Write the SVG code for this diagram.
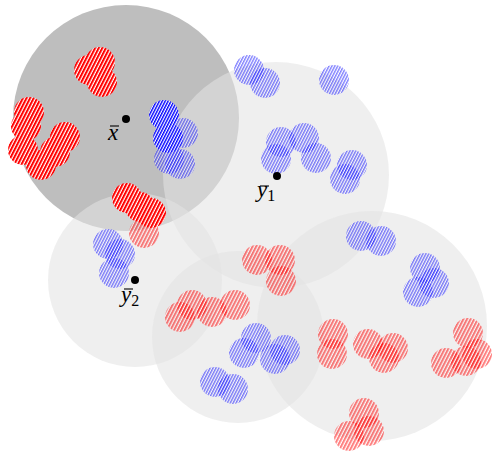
<svg xmlns="http://www.w3.org/2000/svg" width="492" height="453" viewBox="0 0 492 453">
<defs>
<pattern id="pr" patternUnits="userSpaceOnUse" width="3.2" height="10" patternTransform="rotate(27)"><rect width="3.2" height="10" fill="#ffffff"/><rect width="2" height="10" fill="#ff0000"/></pattern>
<pattern id="pb" patternUnits="userSpaceOnUse" width="2.6" height="10" patternTransform="rotate(27)"><rect width="2.6" height="10" fill="#ffffff"/><rect width="1.4" height="10" fill="#0000ff"/></pattern>
</defs>
<style>
.dark{fill:#bebebe}
.ball{fill:#e2e2e2;fill-opacity:0.57}
.r{fill:url(#pr)}
.b{fill:url(#pb)}
.f{opacity:0.5}
.dot{fill:#000}
.lab{font-family:"Liberation Serif","DejaVu Serif",serif;font-style:italic;font-size:23px;fill:#000}
.sub{font-family:"Liberation Serif","DejaVu Serif",serif;font-style:normal;font-size:16px;fill:#000}
.bar{stroke:#000;stroke-width:1.1}
</style>
<g id="balls">
<circle id="ball-x" class="dark" cx="126" cy="118" r="113"/>
<circle id="ball-y1" class="ball" cx="276" cy="175" r="113"/>
<circle id="ball-y2" class="ball" cx="135" cy="280" r="87"/>
<circle id="ball-c3" class="ball" cx="238" cy="337" r="86"/>
<circle id="ball-c4" class="ball" cx="372" cy="326" r="115"/>
</g>
<g id="points" >
<g id="red-vivid" class="r">
<circle cx="100" cy="62" r="15"/><circle cx="89" cy="70" r="15"/><circle cx="102" cy="82" r="15"/>
<circle cx="29" cy="112" r="15"/><circle cx="26" cy="126" r="15"/><circle cx="23" cy="150" r="15"/>
<circle cx="41" cy="165" r="15"/><circle cx="55" cy="152" r="15"/><circle cx="65" cy="137" r="15"/>
<circle cx="127" cy="198" r="15"/><circle cx="140" cy="207" r="15"/><circle cx="151" cy="213" r="15"/>
</g>
<g id="blue-vivid" class="b">
<circle cx="164" cy="115" r="15"/><circle cx="168" cy="138" r="15"/>
</g>
<g id="blue-faded" class="b">
<circle class="f" cx="183" cy="133" r="15"/><circle class="f" cx="169" cy="159" r="15"/><circle class="f" cx="180" cy="164" r="15"/>
<circle class="f" cx="249" cy="70" r="15"/><circle class="f" cx="265" cy="83" r="15"/><circle class="f" cx="334" cy="80" r="15"/>
<circle class="f" cx="281" cy="142" r="15"/><circle class="f" cx="304" cy="138" r="15"/><circle class="f" cx="276" cy="159" r="15"/>
<circle class="f" cx="316" cy="158" r="15"/><circle class="f" cx="352" cy="165" r="15"/><circle class="f" cx="345" cy="179" r="15"/>
<circle class="f" cx="108" cy="244" r="15"/><circle class="f" cx="120" cy="254" r="15"/><circle class="f" cx="114" cy="273" r="15"/>
<circle class="f" cx="361" cy="236" r="15"/><circle class="f" cx="381" cy="241" r="15"/>
<circle class="f" cx="425" cy="268" r="15"/><circle class="f" cx="434" cy="283" r="15"/><circle class="f" cx="418" cy="292" r="15"/>
<circle class="f" cx="256" cy="338" r="15"/><circle class="f" cx="244" cy="353" r="15"/><circle class="f" cx="285" cy="350" r="15"/>
<circle class="f" cx="275" cy="359" r="15"/><circle class="f" cx="215" cy="382" r="15"/><circle class="f" cx="233" cy="389" r="15"/>
</g>
<g id="red-faded" class="r">
<circle class="f" cx="144" cy="233" r="15"/>
<circle class="f" cx="257" cy="260" r="15"/><circle class="f" cx="280" cy="260" r="15"/><circle class="f" cx="281" cy="281" r="15"/>
<circle class="f" cx="180" cy="317" r="15"/><circle class="f" cx="192" cy="305" r="15"/><circle class="f" cx="212" cy="312" r="15"/><circle class="f" cx="235" cy="305" r="15"/>
<circle class="f" cx="333" cy="334" r="15"/><circle class="f" cx="332" cy="354" r="15"/>
<circle class="f" cx="368" cy="344" r="15"/><circle class="f" cx="393" cy="348" r="15"/><circle class="f" cx="384" cy="358" r="15"/>
<circle class="f" cx="468" cy="333" r="15"/><circle class="f" cx="477" cy="354" r="15"/><circle class="f" cx="446" cy="363" r="15"/><circle class="f" cx="466" cy="361" r="15"/>
<circle class="f" cx="364" cy="413" r="15"/><circle class="f" cx="349" cy="436" r="15"/><circle class="f" cx="369" cy="431" r="15"/>
</g>
</g>
<g id="center-x">
<circle class="dot" cx="126" cy="119" r="4"/>
<text class="lab" x="108" y="140">x</text>
<line class="bar" x1="110" y1="126" x2="119" y2="126"/>
</g>
<g id="center-y1">
<circle class="dot" cx="277" cy="176" r="4"/>
<text class="lab" x="257" y="197">y<tspan class="sub" dx="0" dy="4">1</tspan></text>
<line class="bar" x1="260" y1="186" x2="269" y2="186"/>
</g>
<g id="center-y2">
<circle class="dot" cx="135" cy="280" r="4"/>
<text class="lab" x="121" y="302">y<tspan class="sub" dx="0" dy="4">2</tspan></text>
<line class="bar" x1="124" y1="289" x2="133" y2="289"/>
</g>
</svg>
